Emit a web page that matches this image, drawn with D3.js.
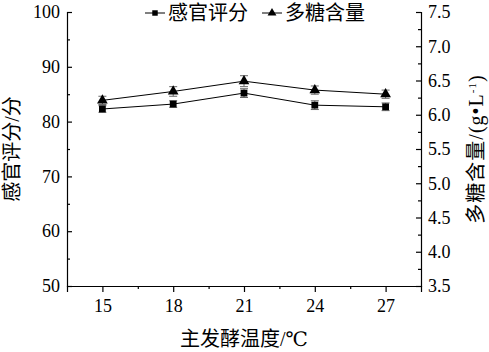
<!DOCTYPE html>
<html>
<head>
<meta charset="utf-8">
<script src="https://cdn.jsdelivr.net/npm/d3@7"></script>
<style>
  body { margin: 0; background: #fff; }
</style>
</head>
<body>
<div id="chart"></div>
<script>
// data
const temps = [15, 18, 21, 24, 27];
const scores = [82.3, 83.2, 85.2, 83.0, 82.7];
const scoreErr = [0.6, 0.6, 0.8, 0.8, 0.7];
const sugars = [6.21, 6.34, 6.49, 6.36, 6.30];
const sugarErr = [0.06, 0.07, 0.08, 0.06, 0.06];
const leftTicks = [50, 60, 70, 80, 90, 100];
const rightTicks = [3.5, 4.0, 4.5, 5.0, 5.5, 6.0, 6.5, 7.0, 7.5];

const FONT = "'Liberation Serif', 'DejaVu Serif', 'Noto Sans CJK SC', serif";

const W = 489, H = 352;
const margin = { top: 12, right: 68, bottom: 66, left: 67 };
const width = W - margin.left - margin.right;
const height = H - margin.top - margin.bottom;

const svg = d3.select("#chart").append("svg")
    .attr("width", W).attr("height", H);
const g = svg.append("g")
    .attr("transform", `translate(${margin.left},${margin.top})`);

const x = d3.scaleLinear().domain([13.5, 28.5]).range([0, width]);
const yL = d3.scaleLinear().domain([50, 100]).range([height, 0]);
const yR = d3.scaleLinear().domain([3.5, 7.5]).range([height, 0]);

// x axis: ticks point down
const xAxis = g.append("g").attr("transform", `translate(0,${height})`)
    .call(d3.axisBottom(x).tickValues(temps).tickSize(6).tickPadding(7).tickFormat(d3.format("d")));
g.append("g").attr("transform", `translate(0,${height})`)
    .call(d3.axisBottom(x).tickValues([16.5, 19.5, 22.5, 25.5]).tickSize(3).tickFormat(""))
    .select(".domain").remove();

// left axis: ticks inward
const yAxisL = g.append("g")
    .call(d3.axisLeft(yL).tickValues(leftTicks).tickSize(-5).tickPadding(7));
g.append("g")
    .call(d3.axisLeft(yL).tickValues([55, 65, 75, 85, 95]).tickSize(-3).tickFormat(""))
    .select(".domain").remove();

// right axis: ticks inward
const yAxisR = g.append("g").attr("transform", `translate(${width},0)`)
    .call(d3.axisRight(yR).tickValues(rightTicks).tickSize(-5).tickPadding(8).tickFormat(d3.format(".1f")));
g.append("g").attr("transform", `translate(${width},0)`)
    .call(d3.axisRight(yR).tickValues(d3.range(3.75, 7.5, 0.5)).tickSize(-3).tickFormat(""))
    .select(".domain").remove();

g.selectAll(".domain, .tick line").attr("stroke", "#000").attr("stroke-width", 1.2);
g.selectAll(".tick text").style("font-size", "18px").style("font-family", FONT);
yAxisR.selectAll(".tick text").attr("x", 7);

// series data
const sData = temps.map((t, i) => ({ t, v: scores[i], e: scoreErr[i] }));
const pData = temps.map((t, i) => ({ t, v: sugars[i], e: sugarErr[i] }));

function drawSeries(data, yScale, symType, size) {
    g.append("path").datum(data)
        .attr("fill", "none").attr("stroke", "#000").attr("stroke-width", 1)
        .attr("d", d3.line().x(d => x(d.t)).y(d => yScale(d.v)));
    const eb = g.append("g").attr("stroke", "#666").attr("stroke-width", 1);
    data.forEach(d => {
        const cx = x(d.t), y1 = yScale(d.v + d.e), y2 = yScale(d.v - d.e);
        eb.append("line").attr("x1", cx).attr("x2", cx).attr("y1", y1).attr("y2", y2);
        eb.append("line").attr("x1", cx - 4).attr("x2", cx + 4).attr("y1", y1).attr("y2", y1);
        eb.append("line").attr("x1", cx - 4).attr("x2", cx + 4).attr("y1", y2).attr("y2", y2);
    });
    g.selectAll(null).data(data).enter().append("path")
        .attr("transform", d => `translate(${x(d.t)},${yScale(d.v)})`)
        .attr("d", d3.symbol().type(symType).size(size))
        .attr("fill", "#000");
}
drawSeries(sData, yL, d3.symbolSquare, 46);
drawSeries(pData, yR, d3.symbolTriangle, 50);

// axis titles
svg.append("text")
    .attr("transform", `translate(19,${margin.top + height / 2}) rotate(-90)`)
    .attr("text-anchor", "middle")
    .style("font-family", FONT).style("font-size", "20px").style("font-weight", "400")
    .text("感官评分/分");
svg.append("text")
    .attr("transform", `translate(483,${margin.top + height / 2}) rotate(-90)`)
    .attr("text-anchor", "middle")
    .style("font-family", FONT).style("font-size", "20px").style("font-weight", "400")
    .style("letter-spacing", "1px")
    .html("多糖含量/(g•L<tspan dy='-7' font-size='11px'>-1</tspan><tspan dy='7'>)</tspan>");
svg.append("text")
    .attr("x", margin.left + width / 2).attr("y", 346)
    .attr("text-anchor", "middle")
    .style("font-family", FONT).style("font-size", "20px").style("font-weight", "400")
    .text("主发酵温度/℃");

// legend
const legend = svg.append("g").attr("transform", "translate(0,13)");
const items = [
    { label: "感官评分", sym: d3.symbolSquare, size: 30, x0: 145 },
    { label: "多糖含量", sym: d3.symbolTriangle, size: 34, x0: 262 }
];
items.forEach(it => {
    legend.append("line").attr("x1", it.x0).attr("x2", it.x0 + 20)
        .attr("y1", 0).attr("y2", 0).attr("stroke", "#000").attr("stroke-width", 1);
    legend.append("path").attr("transform", `translate(${it.x0 + 10},0)`)
        .attr("d", d3.symbol().type(it.sym).size(it.size)).attr("fill", "#000");
    legend.append("text").attr("x", it.x0 + 23).attr("y", 7)
        .style("font-family", FONT).style("font-size", "20px").text(it.label);
});
</script>
</body>
</html>
